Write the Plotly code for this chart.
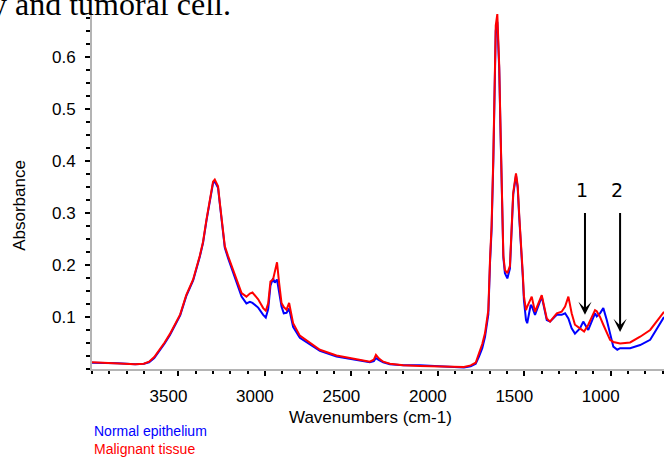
import plotly.graph_objects as go

# FTIR spectra: shared wavenumber grid (cm-1) and absorbance of each tissue type
wavenumbers = [
    4000, 3950, 3900, 3850, 3800, 3750, 3700, 3670, 3640, 3610, 3580, 3550, 3520, 3490,
    3455, 3415, 3377, 3358, 3338, 3319, 3300, 3290, 3271, 3261, 3245, 3232, 3213, 3184,
    3155, 3135, 3107, 3087, 3072, 3055, 3039, 3010, 2995, 2981, 2968, 2953, 2943, 2930,
    2918, 2904, 2891, 2875, 2860, 2848, 2837, 2798, 2740, 2682, 2586, 2490, 2393, 2370,
    2358, 2340, 2316, 2277, 2200, 2104, 2007, 1891, 1849, 1810, 1781, 1762, 1743, 1727,
    1708, 1698, 1689, 1679, 1673, 1665, 1656, 1645, 1637, 1631, 1621, 1612, 1598, 1583,
    1573, 1564, 1548, 1538, 1529, 1519, 1509, 1502, 1490, 1483, 1463, 1457, 1438, 1399,
    1370, 1351, 1312, 1284, 1264, 1245, 1226, 1207, 1178, 1159, 1154, 1130, 1091, 1081,
    1062, 1043, 1023, 1004, 985, 962, 946, 888, 830, 772, 714, 692,
]

normal_epithelium = [
    0.012, 0.012, 0.011, 0.011, 0.010, 0.009, 0.010, 0.013, 0.021, 0.034, 0.049, 0.065, 0.083, 0.103,
    0.140, 0.170, 0.215, 0.242, 0.285, 0.323, 0.357, 0.360, 0.348, 0.318, 0.266, 0.233, 0.213, 0.186,
    0.160, 0.139, 0.126, 0.129, 0.127, 0.122, 0.118, 0.104, 0.099, 0.115, 0.160, 0.174, 0.166, 0.172,
    0.150, 0.120, 0.107, 0.108, 0.116, 0.097, 0.081, 0.060, 0.047, 0.035, 0.024, 0.018, 0.013, 0.015,
    0.021, 0.017, 0.013, 0.009, 0.007, 0.007, 0.005, 0.003, 0.003, 0.005, 0.010, 0.024, 0.040, 0.062,
    0.105, 0.205, 0.268, 0.400, 0.520, 0.650, 0.667, 0.578, 0.450, 0.355, 0.214, 0.184, 0.174, 0.193,
    0.258, 0.335, 0.372, 0.348, 0.290, 0.244, 0.180, 0.132, 0.094, 0.088, 0.123, 0.121, 0.104, 0.139,
    0.094, 0.091, 0.104, 0.104, 0.107, 0.097, 0.078, 0.068, 0.078, 0.091, 0.088, 0.075, 0.107, 0.101,
    0.107, 0.117, 0.094, 0.069, 0.043, 0.037, 0.040, 0.040, 0.046, 0.056, 0.088, 0.100,
]

malignant_tissue = [
    0.013, 0.012, 0.012, 0.011, 0.010, 0.009, 0.010, 0.014, 0.023, 0.036, 0.051, 0.067, 0.085, 0.105,
    0.142, 0.172, 0.217, 0.244, 0.287, 0.326, 0.360, 0.364, 0.351, 0.320, 0.268, 0.236, 0.217, 0.191,
    0.166, 0.146, 0.139, 0.145, 0.147, 0.140, 0.134, 0.117, 0.112, 0.126, 0.168, 0.172, 0.186, 0.205,
    0.166, 0.127, 0.119, 0.114, 0.127, 0.103, 0.088, 0.064, 0.050, 0.037, 0.026, 0.020, 0.014, 0.018,
    0.027, 0.020, 0.014, 0.010, 0.007, 0.006, 0.005, 0.003, 0.004, 0.007, 0.012, 0.030, 0.048, 0.069,
    0.113, 0.212, 0.276, 0.408, 0.530, 0.660, 0.682, 0.583, 0.455, 0.358, 0.218, 0.190, 0.184, 0.198,
    0.262, 0.339, 0.376, 0.352, 0.294, 0.249, 0.185, 0.140, 0.113, 0.120, 0.136, 0.139, 0.110, 0.142,
    0.097, 0.091, 0.107, 0.110, 0.120, 0.139, 0.107, 0.085, 0.078, 0.074, 0.072, 0.085, 0.113, 0.111,
    0.100, 0.085, 0.069, 0.056, 0.052, 0.050, 0.049, 0.051, 0.062, 0.075, 0.100, 0.110,
]

series_names = ["Normal epithelium", "Malignant tissue"]
series_colors = ["#0000ff", "#ff0000"]

x_tick_values = [3500, 3000, 2500, 2000, 1500, 1000]
y_tick_values = [0.1, 0.2, 0.3, 0.4, 0.5, 0.6]

# Marked bands: label, wavenumber of the arrow, absorbance at the arrow tip
band_labels = ["1", "2"]
band_wavenumbers = [1149, 946]
band_tip_absorbance = [0.104, 0.071]
band_label_wavenumbers = [1164, 965]

FONT = "Liberation Sans, Arial, sans-serif"

fig = go.Figure()
for name, color, values in zip(series_names, series_colors,
                                [normal_epithelium, malignant_tissue]):
    fig.add_trace(go.Scatter(
        x=wavenumbers, y=values, mode="lines", name=name,
        line=dict(color=color, width=2), showlegend=False,
    ))

annotations = []

# Caption text running above the plot
annotations.append(dict(
    text="y and tumoral cell.", xref="paper", yref="paper",
    x=(233 - 92) / 572, y=0.969, xanchor="right", yanchor="bottom", showarrow=False,
    font=dict(family="Liberation Serif, Times New Roman, serif", size=32, color="black"),
))

# Axis titles
annotations.append(dict(
    text="Absorbance", xref="paper", yref="paper", x=(18.8 - 92) / 572, y=1 - (205 - 13) / 356,
    xanchor="center", yanchor="middle", textangle=-90, showarrow=False,
    font=dict(family=FONT, size=17, color="black"),
))
annotations.append(dict(
    text="Wavenumbers (cm-1)", xref="paper", yref="paper", x=(370.8 - 92) / 572,
    y=1 - (417.5 - 13) / 356, xanchor="center", yanchor="middle", showarrow=False,
    font=dict(family=FONT, size=17, color="black"),
))

# Coloured series names below the axis
for i, (name, color) in enumerate(zip(series_names, series_colors)):
    annotations.append(dict(
        text=name, xref="paper", yref="paper", x=(91.5 - 92) / 572,
        y=1 - (431 + 18.3 * i - 13) / 356, xanchor="left", yanchor="middle",
        showarrow=False, font=dict(family=FONT, size=14, color=color),
    ))

# Numbered arrows pointing at the bands
for label, wn, tip, lwn in zip(band_labels, band_wavenumbers, band_tip_absorbance,
                               band_label_wavenumbers):
    annotations.append(dict(
        text="", x=wn, y=tip, xref="x", yref="y", ax=wn, ay=0.3025, axref="x", ayref="y",
        showarrow=True, arrowhead=3, arrowsize=1.1, arrowwidth=2, arrowcolor="black",
    ))
    annotations.append(dict(
        text=label, x=lwn, y=0.343, xref="x", yref="y", showarrow=False,
        xanchor="center", yanchor="middle",
        font=dict(family="DejaVu Sans, Verdana, sans-serif", size=19, color="black"),
    ))

fig.update_layout(
    width=664, height=457,
    margin=dict(l=92, r=0, t=13, b=88),
    paper_bgcolor="white", plot_bgcolor="white",
    font=dict(family=FONT, size=17, color="black"),
    annotations=annotations,
    xaxis=dict(
        range=[4000, 692], showgrid=False, zeroline=False,
        showline=True, linecolor="#b4b4b4", linewidth=2,
        ticks="outside", ticklen=5, tickwidth=1.5, tickcolor="black",
        tickvals=x_tick_values, ticktext=[str(v) for v in x_tick_values],
        ticklabelshift=10, ticklabelstandoff=6,
        tickfont=dict(family=FONT, size=17, color="black"),
        minor=dict(ticks="outside", ticklen=3, tickwidth=1.5, tickcolor="black", dtick=100,
                   tick0=0, showgrid=False),
    ),
    yaxis=dict(
        range=[0, 0.684], showgrid=False, zeroline=False,
        showline=True, linecolor="#b4b4b4", linewidth=2,
        ticks="outside", ticklen=5, tickwidth=1.5, tickcolor="black",
        tickvals=y_tick_values, ticktext=[f"{v:.1f}" for v in y_tick_values],
        ticklabelstandoff=6,
        tickfont=dict(family=FONT, size=17, color="black"),
        minor=dict(ticks="outside", ticklen=4, tickwidth=1.5, tickcolor="black", dtick=0.025,
                   tick0=0, showgrid=False),
    ),
)

fig.write_html("out.html")
